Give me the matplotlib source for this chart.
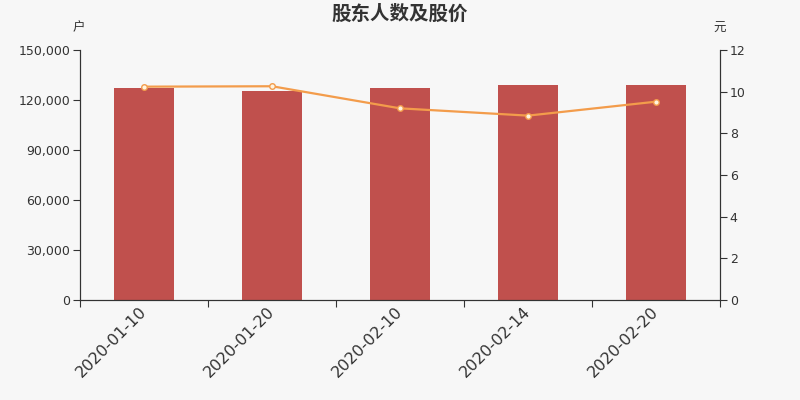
import numpy as np
import matplotlib
matplotlib.use('Agg')
import matplotlib.pyplot as plt

plt.rcParams['font.family'] = ['Noto Sans CJK SC', 'DejaVu Sans']

# Data
dates = ['2020-01-10', '2020-01-20', '2020-02-10', '2020-02-14', '2020-02-20']
holders = [127000, 125200, 127000, 129000, 129000]
price = [10.24, 10.26, 9.20, 8.85, 9.52]

bg = '#f7f7f7'
bar_color = '#c0504d'
line_color = '#f39c4b'
axis_color = '#333333'

fig = plt.figure(figsize=(8, 4), dpi=100, facecolor=bg)
ax = fig.add_axes([0.1, 0.25, 0.8, 0.625])
ax.set_facecolor(bg)
x = np.arange(len(dates))
ax.bar(x, holders, width=0.47, color=bar_color, zorder=2)
ax.set_xlim(-0.5, len(dates) - 0.5)
ax.set_ylim(0, 150000)
ax.set_yticks(np.arange(0, 150001, 30000))
ax.set_yticklabels([f'{v:,}' for v in range(0, 150001, 30000)], family='DejaVu Sans')

# category boundary ticks, labels at category centres
ax.set_xticks(np.arange(-0.5, len(dates)), minor=False)
ax.set_xticklabels([])
ax.set_xticks(x, minor=True)
ax.set_xticklabels(dates, minor=True, rotation=45, ha='right', va='center',
                   rotation_mode='anchor', fontsize=11.5, color=axis_color,
                   family='DejaVu Sans')
ax.tick_params(axis='x', which='minor', length=0, pad=7)
ax.tick_params(axis='x', which='major', length=5, color=axis_color)
ax.tick_params(axis='y', length=5, pad=2, color=axis_color, labelsize=9, labelcolor=axis_color)

ax2 = ax.twinx()
ax2.plot(x, price, color=line_color, lw=1.6, marker='o', ms=4,
         mfc='#fff4e0', mec=line_color, mew=1, zorder=3)
ax2.set_ylim(0, 12)
ax2.set_yticks(np.arange(0, 13, 2))
ax2.set_yticklabels([str(v) for v in range(0, 13, 2)], family='DejaVu Sans')
ax2.tick_params(axis='y', length=5, pad=2, color=axis_color, labelsize=9, labelcolor=axis_color)

for a in (ax, ax2):
    a.spines['top'].set_visible(False)
    for s in ('left', 'right', 'bottom'):
        a.spines[s].set_color(axis_color)
        a.spines[s].set_linewidth(0.8)

fig.text(0.5, 0.965, '股东人数及股价', ha='center', va='center',
         fontsize=14, fontweight='bold', color=axis_color)
fig.text(0.099, 0.93, '户', ha='center', va='center', fontsize=9, color=axis_color)
fig.text(0.899, 0.93, '元', ha='center', va='center', fontsize=9, color=axis_color)

fig.savefig('out.png', dpi=100, facecolor=bg)
